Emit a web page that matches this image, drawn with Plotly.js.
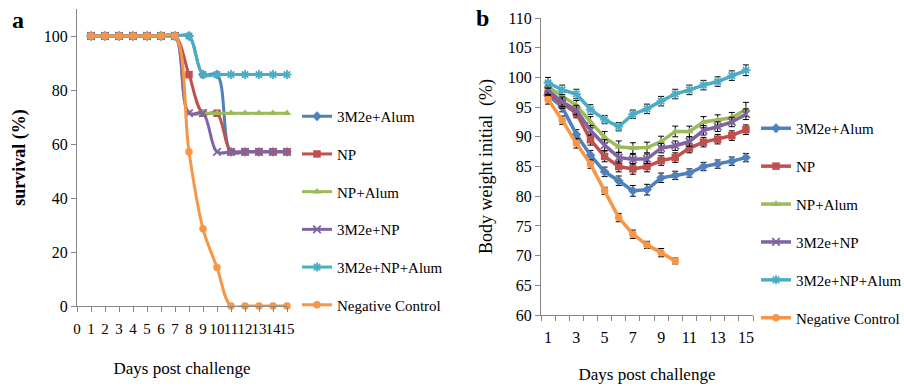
<!DOCTYPE html>
<html>
<head>
<meta charset="utf-8">
<script src="https://cdn.plot.ly/plotly-3.0.1.min.js"></script>
<style>html,body{margin:0;padding:0;background:#fff;}#chart{width:904px;height:387px;}</style>
</head>
<body>
<div id="chart"></div>
<script>
// ---- data ----
const seriesNames = ["3M2e+Alum", "NP", "NP+Alum", "3M2e+NP", "3M2e+NP+Alum", "Negative Control"];
const days = [1, 2, 3, 4, 5, 6, 7, 8, 9, 10, 11, 12, 13, 14, 15];

// panel a: survival (%)
const survAlum3M2e   = [100, 100, 100, 100, 100, 100, 100, 100, 85.7, 85.7, 57.1, 57.1, 57.1, 57.1, 57.1];
const survNP         = [100, 100, 100, 100, 100, 100, 100, 85.7, 71.4, 71.4, 57.1, 57.1, 57.1, 57.1, 57.1];
const survNPAlum     = [100, 100, 100, 100, 100, 100, 100, 71.4, 71.4, 71.4, 71.4, 71.4, 71.4, 71.4, 71.4];
const surv3M2eNP     = [100, 100, 100, 100, 100, 100, 100, 71.4, 71.4, 57.1, 57.1, 57.1, 57.1, 57.1, 57.1];
const surv3M2eNPAlum = [100, 100, 100, 100, 100, 100, 100, 100, 85.7, 85.7, 85.7, 85.7, 85.7, 85.7, 85.7];
const survNegCtrl    = [100, 100, 100, 100, 100, 100, 100, 57.1, 28.6, 14.3, 0, 0, 0, 0, 0];

// panel b: body weight (% of initial)
const wtAlum3M2e   = [97.0, 95.0, 90.4, 86.9, 84.1, 82.6, 80.9, 81.1, 83.1, 83.5, 83.9, 85.0, 85.4, 85.9, 86.5];
const wtNP         = [97.3, 95.6, 94.0, 89.5, 86.7, 85.0, 84.6, 85.0, 86.0, 86.5, 88.1, 89.1, 89.6, 90.2, 91.2];
const wtNPAlum     = [98.4, 96.8, 95.3, 92.5, 89.9, 88.3, 88.1, 88.2, 89.2, 90.9, 90.9, 92.5, 92.8, 93.2, 94.6];
const wt3M2eNP     = [97.8, 95.9, 94.5, 91.1, 88.6, 86.5, 86.2, 86.3, 88.1, 88.5, 89.2, 91.1, 91.7, 92.5, 93.8];
const wt3M2eNPAlum = [99.1, 97.9, 97.2, 94.6, 92.9, 91.7, 93.8, 94.7, 96.0, 97.2, 97.9, 98.7, 99.3, 100.3, 101.2];
const wtNegCtrl    = [96.3, 92.8, 88.9, 85.4, 80.9, 76.4, 73.6, 71.8, 70.5, 69.1];

const errAlum3M2e   = [0.8, 0.8, 0.8, 0.8, 0.8, 0.8, 0.9, 0.9, 0.8, 0.7, 0.7, 0.7, 0.7, 0.7, 0.7];
const errNP         = [0.8, 0.8, 0.8, 0.9, 0.9, 0.9, 0.9, 0.9, 0.8, 0.8, 0.8, 0.8, 0.8, 0.8, 0.8];
const errNPAlum     = [0.9, 0.8, 0.8, 0.9, 1.0, 1.0, 0.9, 0.9, 0.9, 0.9, 0.9, 0.9, 0.9, 0.9, 1.2];
const err3M2eNP     = [0.8, 0.8, 0.8, 0.8, 0.9, 0.9, 0.8, 0.8, 0.8, 0.8, 0.8, 0.8, 0.8, 0.8, 0.9];
const err3M2eNPAlum = [0.9, 0.8, 0.8, 0.8, 0.7, 0.7, 0.7, 0.8, 0.8, 0.8, 0.8, 0.8, 0.8, 0.8, 0.9];
const errNegCtrl    = [0.8, 0.7, 0.8, 0.7, 0.6, 0.7, 0.7, 0.6, 0.7, 0.5];

const xTickLabelsA = ["0","1","2","3","4","5","6","7","8","9","10","11","12","13","14","15"];
const xTickLabelsB = ["1","3","5","7","9","11","13","15"];

// ---- styles ----
const colors = ["#4F81BD", "#C0504D", "#9BBB59", "#8064A2", "#4BACC6", "#F79646"];
const symbols = ["diamond", "square", "triangle-up", "x-thin-open", "asterisk-open", "circle"];
const FONT = "'Liberation Serif', 'Times New Roman', Times, serif";

const survData = [survAlum3M2e, survNP, survNPAlum, surv3M2eNP, surv3M2eNPAlum, survNegCtrl];
const wtData = [wtAlum3M2e, wtNP, wtNPAlum, wt3M2eNP, wt3M2eNPAlum, wtNegCtrl];
const errData = [errAlum3M2e, errNP, errNPAlum, err3M2eNP, err3M2eNPAlum, errNegCtrl];

function markerFor(i, size) {
  const m = {symbol: symbols[i], color: colors[i], size: size};
  if (symbols[i].indexOf("open") >= 0) m.line = {color: colors[i], width: 1.8};
  return m;
}

const traces = [];
survData.forEach((ys, i) => {
  traces.push({
    type: "scatter", mode: "lines+markers",
    x: days.slice(0, ys.length), y: ys,
    name: seriesNames[i], legend: "legend", legendgroup: "a" + i,
    xaxis: "x", yaxis: "y",
    line: {color: colors[i], width: 3, shape: "spline", smoothing: 1},
    marker: markerFor(i, 7.5),
    cliponaxis: false
  });
});
wtData.forEach((ys, i) => {
  traces.push({
    type: "scatter", mode: "lines+markers",
    x: days.slice(0, ys.length), y: ys,
    name: seriesNames[i], legend: "legend2", legendgroup: "b" + i,
    xaxis: "x2", yaxis: "y2",
    line: {color: colors[i], width: 3.5},
    marker: markerFor(i, 7.5),
    error_y: {type: "data", array: errData[i], color: "#000", thickness: 1, width: 3},
    cliponaxis: false
  });
});

const W = 904, H = 387;
const axCommon = {
  showgrid: false, zeroline: false, showline: true, linecolor: "#868686", linewidth: 1,
  ticks: "outside", tickcolor: "#868686", ticklen: 5,
  tickfont: {family: FONT, size: 16, color: "#000"}
};

const layout = {
  width: W, height: H,
  margin: {l: 0, r: 0, t: 0, b: 0, autoexpand: false},
  paper_bgcolor: "#fff", plot_bgcolor: "#fff",
  font: {family: FONT, color: "#000"},
  xaxis: Object.assign({}, axCommon, {
    domain: [77 / W, 287 / W], range: [0, 15],
    tickmode: "array", tickvals: xTickLabelsA.map(Number), ticktext: xTickLabelsA,
    tickangle: 0, anchor: "y", ticklabelstandoff: 4,
    tickfont: {family: FONT, size: 15, color: "#000"},
    title: {text: "Days post challenge", font: {family: FONT, size: 17, color: "#000"}, standoff: 26}
  }),
  yaxis: Object.assign({}, axCommon, {
    domain: [1 - 306 / H, 1 - 9 / H], range: [0, 110],
    tickmode: "array", tickvals: [0, 20, 40, 60, 80, 100], anchor: "x",
    title: {text: "<b>survival (%)</b>", font: {family: FONT, size: 18, color: "#000"}, standoff: 13}
  }),
  xaxis2: Object.assign({}, axCommon, {
    domain: [541 / W, 753 / W], range: [0.5, 15.5],
    tickmode: "array", tickvals: xTickLabelsB.map(Number), ticktext: xTickLabelsB,
    ticks: "", tickangle: 0, anchor: "y2", ticklabelstandoff: 8,
    minor: {tickmode: "linear", tick0: 0.5, dtick: 1, ticks: "outside", ticklen: 5, tickcolor: "#868686", showgrid: false},
    title: {text: "Days post challenge", font: {family: FONT, size: 17, color: "#000"}, standoff: 22}
  }),
  yaxis2: Object.assign({}, axCommon, {
    domain: [1 - 315 / H, 1 - 18 / H], range: [60, 110],
    tickmode: "linear", tick0: 60, dtick: 5, anchor: "x2",
    title: {text: "Body weight initial  (%)", font: {family: FONT, size: 18, color: "#000"}, standoff: 10}
  }),
  legend: {
    x: 297 / W, y: 1 - 100 / H, xanchor: "left", yanchor: "top",
    font: {family: FONT, size: 15, color: "#000"},
    tracegroupgap: 15.2, bgcolor: "rgba(0,0,0,0)", traceorder: "grouped"
  },
  legend2: {
    x: 756 / W, y: 1 - 112 / H, xanchor: "left", yanchor: "top",
    font: {family: FONT, size: 15, color: "#000"},
    tracegroupgap: 15.4, bgcolor: "rgba(0,0,0,0)", traceorder: "grouped"
  },
  annotations: [
    {text: "<b>a</b>", xref: "paper", yref: "paper", x: 18 / W, y: 1 - 20 / H, showarrow: false,
     font: {family: FONT, size: 24, color: "#000"}, xanchor: "center", yanchor: "middle"},
    {text: "<b>b</b>", xref: "paper", yref: "paper", x: 482 / W, y: 1 - 18 / H, showarrow: false,
     font: {family: FONT, size: 24, color: "#000"}, xanchor: "center", yanchor: "middle"}
  ],
  showlegend: true
};

Plotly.newPlot("chart", traces, layout, {displayModeBar: false, staticPlot: true});
</script>
</body>
</html>
